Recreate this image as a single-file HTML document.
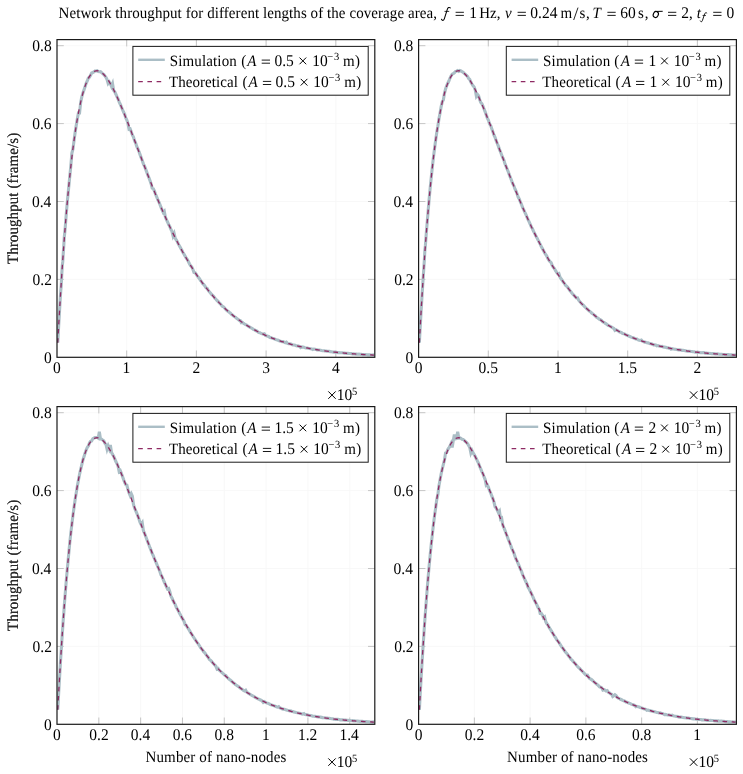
<!DOCTYPE html>
<html><head><meta charset="utf-8"><style>
html,body{margin:0;padding:0;background:#fff;width:743px;height:774px;overflow:hidden}
svg{display:block;will-change:transform}
text{font-family:"Liberation Serif",serif;text-rendering:geometricPrecision}
</style></head><body>
<svg width="743" height="774" viewBox="0 0 743 774" font-family="Liberation Serif, serif" fill="#000">
<rect width="743" height="774" fill="#fff"/>
<text transform="matrix(1,0,0,1.05,58.57,17.80)" font-size="15.0" textLength="378.4" lengthAdjust="spacing">Network throughput for different lengths of the coverage area,</text>
<path d="M441.5,19.3C442.2,20.9 443.7,20.8 444.3,18.9L447.3,9.4C447.9,7.5 449.3,6.9 450.3,7.9" stroke="#000" stroke-width="1.05" fill="none" stroke-linecap="round"/>
<path d="M444.5,11.4H449.2" stroke="#000" stroke-width="0.8"/>
<path d="M455.60,12.30h8.3M455.60,15.40h8.3" stroke="#000" stroke-width="0.9"/>
<text transform="matrix(1,0,0,1.05,469.24,17.80)" font-size="15.5">1</text>
<text transform="matrix(1,0,0,1.05,479.17,17.80)" font-size="15.0">Hz</text>
<text transform="matrix(1,0,0,1.05,496.73,17.80)" font-size="15.0">,</text>
<text transform="matrix(1,0,0,1.05,504.99,17.80)" font-size="15.0" font-style="italic">v</text>
<path d="M517.60,12.30h8.3M517.60,15.40h8.3" stroke="#000" stroke-width="0.9"/>
<text transform="matrix(1,0,0,1.05,530.31,17.80)" font-size="15.5">0.24</text>
<text transform="matrix(1,0,0,1.05,560.49,17.80)" font-size="15.0">m</text>
<path d="M573.7,20.00L578.0,7.60" stroke="#000" stroke-width="0.85"/>
<text transform="matrix(1,0,0,1.05,579.58,17.80)" font-size="15.0">s</text>
<text transform="matrix(1,0,0,1.05,586.03,17.80)" font-size="15.0">,</text>
<text transform="matrix(1,0,0,1.05,592.52,17.80)" font-size="15.0" font-style="italic">T</text>
<path d="M607.40,12.30h8.3M607.40,15.40h8.3" stroke="#000" stroke-width="0.9"/>
<text transform="matrix(1,0,0,1.05,620.23,17.80)" font-size="15.5">60</text>
<text transform="matrix(1,0,0,1.05,637.98,17.80)" font-size="15.0">s</text>
<text transform="matrix(1,0,0,1.05,644.73,17.80)" font-size="15.0">,</text>
<g fill="none" stroke="#000"><ellipse cx="655.8" cy="14.5" rx="2.5" ry="3.05" transform="rotate(25 655.8 14.5)" stroke-width="1.1"/><path d="M655.0,11.45L662.7,11.3" stroke-width="1.0"/></g>
<path d="M668.00,12.30h8.3M668.00,15.40h8.3" stroke="#000" stroke-width="0.9"/>
<text transform="matrix(1,0,0,1.05,681.22,17.80)" font-size="15.5">2</text>
<text transform="matrix(1,0,0,1.05,689.03,17.80)" font-size="15.0">,</text>
<text transform="matrix(1,0,0,1.05,696.64,17.80)" font-size="15.0" font-style="italic">t</text>
<g transform="translate(700.3,12.3) scale(0.74,0.7)" fill="none" stroke="#000"><path d="M0,12.4C0.7,14 2.2,13.9 2.8,12L5.8,2.5C6.4,0.6 7.8,0 8.8,1" stroke-width="1.25" stroke-linecap="round"/><path d="M3,4.5H7.7" stroke-width="1.0"/></g>
<path d="M713.20,12.30h8.3M713.20,15.40h8.3" stroke="#000" stroke-width="0.9"/>
<text transform="matrix(1,0,0,1.05,726.51,17.80)" font-size="15.5">0</text>
<path d="M126.70,39.60V357.30M196.40,39.60V357.30M266.10,39.60V357.30M335.80,39.60V357.30M57.00,279.40H374.80M57.00,201.50H374.80M57.00,123.60H374.80M57.00,45.70H374.80" stroke="#f6f6f6" stroke-width="0.8" fill="none"/>
<path d="M126.70,357.30v-6.8M126.70,39.60v6.8M196.40,357.30v-6.8M196.40,39.60v6.8M266.10,357.30v-6.8M266.10,39.60v6.8M335.80,357.30v-6.8M335.80,39.60v6.8M57.00,279.40h6.8M374.80,279.40h-6.8M57.00,201.50h6.8M374.80,201.50h-6.8M57.00,123.60h6.8M374.80,123.60h-6.8M57.00,45.70h6.8M374.80,45.70h-6.8" stroke="#b8b8b8" stroke-width="0.8" fill="none"/>
<clipPath id="c0"><rect x="57.00" y="39.60" width="317.80" height="317.70"/></clipPath>
<g clip-path="url(#c0)">
<path d="M57.76,342.63 L58.26,333.53 L58.76,324.28 L59.26,315.64 L59.76,306.88 L60.26,298.50 L60.76,290.81 L61.26,285.05 L61.76,274.75 L62.26,266.10 L62.76,261.68 L63.26,253.06 L63.76,246.03 L64.26,237.28 L64.76,232.53 L65.26,227.12 L66.36,212.82 L67.46,200.06 L68.56,188.93 L69.66,177.67 L70.76,166.55 L71.86,153.27 L72.96,148.86 L74.06,140.33 L75.16,132.30 L76.26,125.27 L77.36,118.76 L78.46,112.79 L79.56,112.87 L80.66,102.56 L81.76,97.10 L82.86,93.17 L83.96,89.96 L85.06,86.64 L86.16,83.32 L87.26,80.95 L88.36,78.08 L89.46,77.23 L90.56,75.16 L91.66,72.98 L92.76,72.48 L93.86,71.94 L94.96,71.04 L96.06,70.95 L97.16,70.75 L98.26,71.45 L99.36,71.69 L100.46,71.65 L101.56,72.60 L102.66,73.62 L103.76,74.45 L104.86,75.93 L105.96,77.35 L107.06,79.46 L108.16,83.36 L109.26,81.94 L110.36,83.66 L111.46,86.39 L112.56,83.64 L113.66,90.38 L114.76,91.91 L115.86,94.22 L116.96,96.68 L118.06,98.96 L119.16,101.90 L120.26,104.23 L121.36,106.91 L122.46,109.49 L123.56,112.01 L124.66,114.33 L125.76,117.90 L126.86,120.12 L127.96,123.60 L129.06,129.25 L130.16,128.94 L131.26,131.66 L132.36,135.00 L133.46,137.10 L134.56,140.60 L135.66,143.07 L136.76,146.37 L137.86,148.79 L138.96,151.52 L140.06,154.63 L141.16,157.62 L142.26,160.53 L143.36,163.85 L144.46,166.00 L145.56,168.91 L146.66,171.87 L147.76,174.86 L148.86,177.59 L149.96,180.50 L151.06,183.66 L152.16,188.13 L153.26,188.59 L154.36,190.93 L155.46,194.03 L156.56,196.54 L157.66,199.38 L158.76,201.67 L159.86,204.22 L160.96,207.18 L162.06,209.85 L163.16,212.33 L164.26,211.18 L165.36,217.08 L166.46,219.68 L167.56,221.98 L168.66,224.54 L169.76,226.45 L170.86,229.36 L171.96,231.28 L173.06,235.94 L174.16,233.50 L175.26,238.26 L176.36,240.07 L177.46,242.01 L178.56,244.40 L179.66,246.35 L180.76,248.28 L181.86,250.27 L182.96,252.49 L184.06,254.23 L185.16,256.25 L186.26,258.19 L187.36,259.60 L188.46,261.80 L189.56,263.94 L190.66,265.84 L191.76,266.93 L192.86,269.22 L193.96,272.52 L195.06,272.76 L196.16,274.12 L197.26,275.94 L198.36,277.23 L199.46,278.70 L200.56,280.58 L201.66,281.85 L202.76,283.66 L203.86,284.65 L204.96,286.07 L206.06,287.77 L207.16,288.37 L208.26,290.50 L209.36,291.81 L210.46,293.02 L211.56,294.36 L212.66,295.38 L213.76,296.54 L214.86,298.18 L215.96,299.24 L217.06,300.53 L218.16,301.42 L219.26,302.81 L220.36,303.76 L221.46,305.27 L222.56,306.38 L223.66,306.90 L224.76,308.30 L225.86,309.44 L226.96,310.64 L228.06,311.32 L229.16,312.27 L230.26,312.99 L231.36,314.24 L232.46,315.06 L233.56,315.98 L234.66,316.71 L235.76,317.39 L236.86,318.56 L237.96,319.24 L239.06,320.17 L240.16,320.36 L241.26,322.65 L242.36,322.31 L243.46,323.31 L244.56,324.01 L245.66,324.72 L246.76,325.18 L247.86,325.98 L248.96,326.61 L250.06,327.33 L251.16,327.89 L252.26,328.51 L253.36,329.30 L254.46,329.78 L255.56,330.54 L256.66,330.97 L257.76,331.69 L258.86,332.59 L259.96,332.73 L261.06,333.45 L262.16,333.84 L263.26,334.19 L264.36,333.80 L265.46,335.40 L266.56,335.83 L267.66,336.16 L268.76,336.50 L269.86,337.52 L270.96,337.60 L272.06,338.06 L273.16,338.59 L274.26,338.83 L275.36,339.34 L276.46,339.77 L277.56,340.05 L278.66,340.46 L279.76,340.95 L280.86,341.30 L281.96,341.62 L283.06,341.56 L284.16,342.12 L285.26,342.68 L286.36,342.14 L287.46,343.39 L288.56,343.69 L289.66,343.79 L290.76,343.91 L291.86,344.49 L292.96,344.94 L294.06,344.98 L295.16,345.17 L296.26,345.75 L297.36,345.91 L298.46,345.97 L299.56,346.48 L300.66,347.61 L301.76,346.92 L302.86,347.11 L303.96,347.34 L305.06,347.65 L306.16,347.92 L307.26,348.08 L308.36,348.31 L309.46,348.51 L310.56,348.71 L311.66,348.89 L312.76,349.51 L313.86,349.09 L314.96,349.30 L316.06,349.56 L317.16,349.92 L318.26,349.94 L319.36,349.98 L320.46,350.19 L321.56,350.51 L322.66,350.70 L323.76,350.73 L324.86,350.89 L325.96,350.93 L327.06,351.18 L328.16,351.28 L329.26,351.38 L330.36,351.61 L331.46,351.77 L332.56,351.97 L333.66,352.14 L334.76,352.13 L335.86,352.22 L336.96,352.55 L338.06,352.58 L339.16,352.67 L340.26,352.69 L341.36,352.79 L342.46,352.81 L343.56,352.98 L344.66,353.09 L345.76,353.23 L346.86,353.34 L347.96,353.28 L349.06,353.55 L350.16,353.50 L351.26,353.63 L352.36,353.99 L353.46,353.84 L354.56,354.08 L355.66,354.14 L356.76,354.04 L357.86,354.22 L358.96,354.12 L360.06,354.23 L361.16,354.38 L362.26,354.71 L363.36,354.55 L364.46,354.59 L365.56,354.61 L366.66,354.68 L367.76,354.89 L368.86,354.90 L369.96,354.81 L371.06,355.02 L372.16,354.99 L373.26,354.88 L374.36,355.16" stroke="#abbec6" stroke-width="3.1" fill="none" stroke-linejoin="miter" stroke-miterlimit="4"/>
<path d="M57.76,342.76 L58.01,338.09 L58.26,333.49 L58.51,328.94 L58.76,324.45 L59.01,320.02 L59.26,315.65 L59.51,311.33 L59.76,307.06 L60.01,302.85 L60.26,298.70 L60.51,294.60 L60.76,290.55 L61.01,286.56 L61.26,282.62 L61.51,278.73 L61.76,274.89 L62.01,271.10 L62.26,267.37 L62.51,263.68 L62.76,260.04 L63.01,256.46 L63.26,252.92 L63.51,249.42 L63.76,245.98 L64.01,242.58 L64.26,239.23 L64.51,235.93 L64.76,232.67 L65.01,229.46 L66.01,217.06 L67.01,205.34 L68.01,194.30 L69.01,183.89 L70.01,174.09 L71.01,164.89 L72.01,156.25 L73.01,148.16 L74.01,140.59 L75.01,133.53 L76.01,126.94 L77.01,120.82 L78.01,115.14 L79.01,109.89 L80.01,105.04 L81.01,100.59 L82.01,96.51 L83.01,92.79 L84.01,89.41 L85.01,86.36 L86.01,83.63 L87.01,81.19 L88.01,79.05 L89.01,77.18 L90.01,75.57 L91.01,74.21 L92.01,73.09 L93.01,72.20 L94.01,71.53 L95.01,71.07 L96.01,70.80 L97.01,70.72 L98.01,70.82 L99.01,71.09 L100.01,71.53 L101.01,72.11 L102.01,72.84 L103.01,73.71 L104.01,74.72 L105.01,75.84 L106.01,77.08 L107.01,78.44 L108.01,79.89 L109.01,81.45 L110.01,83.10 L111.01,84.83 L112.01,86.65 L113.01,88.54 L114.01,90.51 L115.01,92.54 L116.01,94.64 L117.01,96.79 L118.01,99.00 L119.01,101.26 L120.01,103.56 L121.01,105.91 L122.01,108.29 L123.01,110.71 L124.01,113.17 L125.01,115.65 L126.01,118.16 L127.01,120.70 L128.01,123.25 L129.01,125.82 L130.01,128.41 L131.01,131.01 L132.01,133.63 L133.01,136.25 L134.01,138.88 L135.01,141.51 L136.01,144.15 L137.01,146.79 L138.01,149.43 L139.01,152.07 L140.01,154.70 L141.01,157.33 L142.01,159.95 L143.01,162.57 L144.01,165.18 L145.01,167.77 L146.01,170.36 L147.01,172.93 L148.01,175.50 L149.01,178.04 L150.01,180.57 L151.01,183.09 L152.01,185.59 L153.01,188.07 L154.01,190.54 L155.01,192.99 L156.01,195.42 L157.01,197.82 L158.01,200.21 L159.01,202.58 L160.01,204.93 L161.01,207.25 L162.01,209.55 L163.01,211.84 L164.01,214.09 L165.01,216.33 L166.01,218.54 L167.01,220.73 L168.01,222.90 L169.01,225.04 L170.01,227.16 L171.01,229.25 L172.01,231.33 L173.01,233.37 L174.01,235.39 L175.01,237.39 L176.01,239.37 L177.01,241.32 L178.01,243.24 L179.01,245.14 L180.01,247.02 L181.01,248.87 L182.01,250.70 L183.01,252.50 L184.01,254.28 L185.01,256.04 L186.01,257.77 L187.01,259.48 L188.01,261.17 L189.01,262.83 L190.01,264.47 L191.01,266.08 L192.01,267.67 L193.01,269.24 L194.01,270.79 L195.01,272.31 L196.01,273.81 L197.01,275.29 L198.01,276.75 L199.01,278.18 L200.01,279.59 L201.01,280.99 L202.01,282.36 L203.01,283.71 L204.01,285.03 L205.01,286.34 L206.01,287.63 L207.01,288.89 L208.01,290.14 L209.01,291.37 L210.01,292.58 L211.01,293.76 L212.01,294.93 L213.01,296.08 L214.01,297.21 L215.01,298.33 L216.01,299.42 L217.01,300.50 L218.01,301.55 L219.01,302.59 L220.01,303.62 L221.01,304.62 L222.01,305.61 L223.01,306.59 L224.01,307.54 L225.01,308.48 L226.01,309.41 L227.01,310.31 L228.01,311.21 L229.01,312.08 L230.01,312.94 L231.01,313.79 L232.01,314.62 L233.01,315.44 L234.01,316.24 L235.01,317.03 L236.01,317.81 L237.01,318.57 L238.01,319.32 L239.01,320.05 L240.01,320.77 L241.01,321.48 L242.01,322.18 L243.01,322.86 L244.01,323.53 L245.01,324.19 L246.01,324.84 L247.01,325.47 L248.01,326.10 L249.01,326.71 L250.01,327.31 L251.01,327.90 L252.01,328.48 L253.01,329.05 L254.01,329.61 L255.01,330.15 L256.01,330.69 L257.01,331.22 L258.01,331.74 L259.01,332.24 L260.01,332.74 L261.01,333.23 L262.01,333.71 L263.01,334.18 L264.01,334.65 L265.01,335.10 L266.01,335.54 L267.01,335.98 L268.01,336.41 L269.01,336.83 L270.01,337.24 L271.01,337.64 L272.01,338.04 L273.01,338.43 L274.01,338.81 L275.01,339.19 L276.01,339.55 L277.01,339.91 L278.01,340.26 L279.01,340.61 L280.01,340.95 L281.01,341.28 L282.01,341.61 L283.01,341.93 L284.01,342.24 L285.01,342.55 L286.01,342.85 L287.01,343.15 L288.01,343.44 L289.01,343.72 L290.01,344.00 L291.01,344.27 L292.01,344.54 L293.01,344.80 L294.01,345.06 L295.01,345.31 L296.01,345.56 L297.01,345.80 L298.01,346.04 L299.01,346.27 L300.01,346.50 L301.01,346.73 L302.01,346.94 L303.01,347.16 L304.01,347.37 L305.01,347.58 L306.01,347.78 L307.01,347.98 L308.01,348.17 L309.01,348.36 L310.01,348.55 L311.01,348.73 L312.01,348.91 L313.01,349.08 L314.01,349.26 L315.01,349.43 L316.01,349.59 L317.01,349.75 L318.01,349.91 L319.01,350.07 L320.01,350.22 L321.01,350.37 L322.01,350.51 L323.01,350.65 L324.01,350.79 L325.01,350.93 L326.01,351.07 L327.01,351.20 L328.01,351.33 L329.01,351.45 L330.01,351.58 L331.01,351.70 L332.01,351.82 L333.01,351.93 L334.01,352.05 L335.01,352.16 L336.01,352.27 L337.01,352.37 L338.01,352.48 L339.01,352.58 L340.01,352.68 L341.01,352.78 L342.01,352.88 L343.01,352.97 L344.01,353.06 L345.01,353.15 L346.01,353.24 L347.01,353.33 L348.01,353.41 L349.01,353.50 L350.01,353.58 L351.01,353.66 L352.01,353.73 L353.01,353.81 L354.01,353.89 L355.01,353.96 L356.01,354.03 L357.01,354.10 L358.01,354.17 L359.01,354.24 L360.01,354.30 L361.01,354.37 L362.01,354.43 L363.01,354.49 L364.01,354.55 L365.01,354.61 L366.01,354.67 L367.01,354.73 L368.01,354.78 L369.01,354.84 L370.01,354.89 L371.01,354.94 L372.01,354.99 L373.01,355.04 L374.01,355.09" stroke="#8e2a63" stroke-width="1.3" fill="none" stroke-dasharray="4.6 4.6"/>
</g>
<rect x="57.00" y="39.60" width="317.80" height="317.70" fill="none" stroke="#1a1a1a" stroke-width="1.2"/>
<text transform="matrix(1,0,0,1.05,43.94,362.80)" font-size="15.5">0</text>
<text transform="matrix(1,0,0,1.05,32.58,284.90)" font-size="15.5">0.2</text>
<text transform="matrix(1,0,0,1.05,31.97,207.00)" font-size="15.5">0.4</text>
<text transform="matrix(1,0,0,1.05,32.19,129.10)" font-size="15.5">0.6</text>
<text transform="matrix(1,0,0,1.05,32.32,51.20)" font-size="15.5">0.8</text>
<text transform="matrix(1,0,0,1.05,53.12,373.10)" font-size="15.5">0</text>
<text transform="matrix(1,0,0,1.05,122.61,373.10)" font-size="15.5">1</text>
<text transform="matrix(1,0,0,1.05,192.61,373.10)" font-size="15.5">2</text>
<text transform="matrix(1,0,0,1.05,262.16,373.10)" font-size="15.5">3</text>
<text transform="matrix(1,0,0,1.05,331.89,373.10)" font-size="15.5">4</text>
<path d="M328.30,391.40L335.70,398.80M335.70,391.40L328.30,398.80" stroke="#000" stroke-width="1.0"/>
<text transform="matrix(1,0,0,1.05,336.84,399.80)" font-size="15.5">10</text>
<text transform="matrix(1,0,0,1.05,352.09,394.60)" font-size="10.5">5</text>
<text transform="translate(17.8,198.45) rotate(-90) scale(1,1.05)" text-anchor="middle" fill="#2a2a2a" style="stroke:none" font-size="15.0" textLength="131.3" lengthAdjust="spacing">Throughput (frame/s)</text>
<rect x="132.90" y="46.40" width="235.30" height="48.80" fill="#fff" stroke="#1a1a1a" stroke-width="1"/>
<line x1="138.20" y1="59.80" x2="164.80" y2="59.80" stroke="#abbec6" stroke-width="2.4"/>
<line x1="138.20" y1="81.60" x2="164.80" y2="81.60" stroke="#8e2a63" stroke-width="1.2" stroke-dasharray="4.6 4.6"/>
<text transform="matrix(1,0,0,1.05,169.70,65.60)" font-size="15.0" textLength="67.13" lengthAdjust="spacing">Simulation</text>
<text transform="matrix(1,0,0,1.05,241.34,65.60)" font-size="15.0">(</text>
<text transform="matrix(1,0,0,1.05,247.32,65.60)" font-size="15.0" font-style="italic">A</text>
<path d="M261.70,60.10h8.3M261.70,63.20h8.3" stroke="#000" stroke-width="0.9"/>
<text transform="matrix(1,0,0,1.05,274.40,65.60)" font-size="15.5">0.5</text>
<path d="M299.50,57.55L306.20,64.25M306.20,57.55L299.50,64.25" stroke="#000" stroke-width="1.0"/>
<text transform="matrix(1,0,0,1.05,312.14,65.60)" font-size="15.5">10</text>
<text transform="matrix(1,0,0,1.05,327.18,59.50)" font-size="10.5">−</text>
<text transform="matrix(1,0,0,1.05,333.90,59.50)" font-size="10.5">3</text>
<text transform="matrix(1,0,0,1.05,342.99,65.60)" font-size="15.0">m</text>
<text transform="matrix(1,0,0,1.05,355.02,65.60)" font-size="15.0">)</text>
<text transform="matrix(1,0,0,1.05,168.93,86.90)" font-size="15.0" textLength="69.07" lengthAdjust="spacing">Theoretical</text>
<text transform="matrix(1,0,0,1.05,242.54,86.90)" font-size="15.0">(</text>
<text transform="matrix(1,0,0,1.05,248.52,86.90)" font-size="15.0" font-style="italic">A</text>
<path d="M262.90,81.40h8.3M262.90,84.50h8.3" stroke="#000" stroke-width="0.9"/>
<text transform="matrix(1,0,0,1.05,275.60,86.90)" font-size="15.5">0.5</text>
<path d="M300.70,78.85L307.40,85.55M307.40,78.85L300.70,85.55" stroke="#000" stroke-width="1.0"/>
<text transform="matrix(1,0,0,1.05,313.34,86.90)" font-size="15.5">10</text>
<text transform="matrix(1,0,0,1.05,328.38,80.80)" font-size="10.5">−</text>
<text transform="matrix(1,0,0,1.05,335.10,80.80)" font-size="10.5">3</text>
<text transform="matrix(1,0,0,1.05,344.19,86.90)" font-size="15.0">m</text>
<text transform="matrix(1,0,0,1.05,356.22,86.90)" font-size="15.0">)</text>
<path d="M488.30,39.60V357.30M558.00,39.60V357.30M627.70,39.60V357.30M697.40,39.60V357.30M418.60,279.40H736.40M418.60,201.50H736.40M418.60,123.60H736.40M418.60,45.70H736.40" stroke="#f6f6f6" stroke-width="0.8" fill="none"/>
<path d="M488.30,357.30v-6.8M488.30,39.60v6.8M558.00,357.30v-6.8M558.00,39.60v6.8M627.70,357.30v-6.8M627.70,39.60v6.8M697.40,357.30v-6.8M697.40,39.60v6.8M418.60,279.40h6.8M736.40,279.40h-6.8M418.60,201.50h6.8M736.40,201.50h-6.8M418.60,123.60h6.8M736.40,123.60h-6.8M418.60,45.70h6.8M736.40,45.70h-6.8" stroke="#b8b8b8" stroke-width="0.8" fill="none"/>
<clipPath id="c1"><rect x="418.60" y="39.60" width="317.80" height="317.70"/></clipPath>
<g clip-path="url(#c1)">
<path d="M419.36,342.60 L419.86,333.52 L420.36,324.58 L420.86,315.65 L421.36,306.99 L421.86,298.50 L422.36,290.66 L422.86,282.77 L423.36,275.21 L423.86,267.50 L424.36,259.94 L424.86,250.49 L425.36,245.90 L425.86,239.10 L426.36,232.35 L426.86,226.42 L427.96,213.12 L429.06,200.06 L430.16,188.18 L431.26,177.33 L432.36,166.97 L433.46,157.20 L434.56,148.47 L435.66,140.12 L436.76,132.45 L437.86,126.22 L438.96,118.68 L440.06,112.99 L441.16,106.60 L442.26,101.81 L443.36,99.99 L444.46,93.24 L445.56,89.05 L446.66,85.80 L447.76,83.18 L448.86,81.06 L449.96,78.29 L451.06,75.93 L452.16,74.17 L453.26,73.64 L454.36,72.87 L455.46,71.59 L456.56,71.12 L457.66,70.50 L458.76,71.38 L459.86,70.49 L460.96,70.91 L462.06,71.77 L463.16,72.26 L464.26,73.32 L465.36,74.29 L466.46,75.37 L467.56,76.54 L468.66,78.50 L469.76,79.49 L470.86,82.08 L471.96,84.04 L473.06,85.74 L474.16,87.01 L475.26,90.05 L476.36,96.09 L477.46,94.32 L478.56,95.68 L479.66,99.54 L480.76,102.46 L481.86,103.67 L482.96,106.04 L484.06,108.95 L485.16,111.85 L486.26,115.07 L487.36,118.11 L488.46,120.38 L489.56,123.75 L490.66,125.48 L491.76,128.68 L492.86,131.78 L493.96,135.03 L495.06,137.22 L496.16,140.63 L497.26,143.52 L498.36,146.14 L499.46,149.37 L500.56,152.03 L501.66,154.94 L502.76,157.75 L503.86,160.14 L504.96,163.84 L506.06,166.41 L507.16,169.06 L508.26,171.79 L509.36,174.89 L510.46,177.65 L511.56,180.54 L512.66,183.51 L513.76,185.52 L514.86,188.69 L515.96,190.97 L517.06,193.75 L518.16,197.06 L519.26,198.97 L520.36,202.01 L521.46,204.31 L522.56,207.46 L523.66,209.61 L524.76,212.15 L525.86,214.43 L526.96,217.06 L528.06,219.66 L529.16,221.93 L530.26,224.37 L531.36,226.93 L532.46,228.82 L533.56,231.39 L534.66,233.35 L535.76,235.87 L536.86,237.63 L537.96,239.92 L539.06,242.07 L540.16,244.12 L541.26,246.51 L542.36,248.46 L543.46,250.58 L544.56,252.79 L545.66,254.50 L546.76,256.09 L547.86,258.46 L548.96,260.33 L550.06,261.63 L551.16,262.59 L552.26,265.54 L553.36,267.44 L554.46,268.60 L555.56,270.67 L556.66,272.37 L557.76,273.91 L558.86,273.51 L559.96,276.99 L561.06,278.81 L562.16,280.22 L563.26,282.00 L564.36,283.30 L565.46,285.22 L566.56,286.12 L567.66,287.29 L568.76,288.89 L569.86,290.58 L570.96,291.83 L572.06,293.16 L573.16,294.43 L574.26,295.69 L575.36,296.84 L576.46,297.96 L577.56,297.93 L578.66,300.17 L579.76,301.59 L580.86,302.73 L581.96,304.10 L583.06,304.84 L584.16,306.12 L585.26,307.25 L586.36,308.33 L587.46,309.26 L588.56,310.34 L589.66,311.34 L590.76,312.09 L591.86,313.21 L592.96,313.89 L594.06,314.86 L595.16,315.73 L596.26,317.00 L597.36,317.73 L598.46,318.50 L599.56,319.38 L600.66,319.92 L601.76,320.66 L602.86,321.99 L603.96,322.29 L605.06,323.17 L606.16,323.88 L607.26,324.73 L608.36,325.58 L609.46,325.85 L610.56,326.49 L611.66,327.15 L612.76,327.80 L613.86,328.46 L614.96,330.43 L616.06,329.84 L617.16,330.42 L618.26,330.99 L619.36,331.79 L620.46,332.16 L621.56,332.67 L622.66,333.48 L623.76,333.68 L624.86,334.17 L625.96,334.93 L627.06,335.27 L628.16,335.68 L629.26,336.28 L630.36,336.73 L631.46,337.32 L632.56,337.54 L633.66,337.93 L634.76,338.48 L635.86,338.93 L636.96,339.09 L638.06,339.90 L639.16,340.17 L640.26,340.39 L641.36,340.10 L642.46,341.25 L643.56,341.64 L644.66,342.13 L645.76,342.27 L646.86,342.67 L647.96,342.86 L649.06,343.37 L650.16,343.67 L651.26,343.74 L652.36,344.23 L653.46,344.88 L654.56,344.74 L655.66,345.03 L656.76,345.86 L657.86,345.53 L658.96,346.00 L660.06,346.21 L661.16,346.47 L662.26,346.38 L663.36,347.01 L664.46,347.13 L665.56,347.34 L666.66,347.62 L667.76,347.78 L668.86,348.10 L669.96,348.21 L671.06,349.16 L672.16,348.59 L673.26,348.91 L674.36,349.30 L675.46,349.30 L676.56,349.59 L677.66,349.79 L678.76,349.87 L679.86,349.78 L680.96,350.00 L682.06,350.37 L683.16,350.40 L684.26,350.45 L685.36,350.72 L686.46,351.07 L687.56,351.19 L688.66,351.22 L689.76,351.25 L690.86,351.49 L691.96,351.50 L693.06,351.72 L694.16,351.82 L695.26,352.19 L696.36,352.21 L697.46,352.28 L698.56,352.35 L699.66,352.42 L700.76,352.65 L701.86,352.73 L702.96,352.67 L704.06,352.61 L705.16,353.09 L706.26,353.08 L707.36,353.32 L708.46,353.22 L709.56,353.41 L710.66,353.53 L711.76,353.76 L712.86,353.54 L713.96,353.60 L715.06,353.88 L716.16,354.01 L717.26,353.89 L718.36,353.98 L719.46,354.18 L720.56,354.18 L721.66,354.34 L722.76,354.52 L723.86,354.43 L724.96,354.46 L726.06,354.62 L727.16,354.56 L728.26,354.60 L729.36,354.81 L730.46,354.90 L731.56,354.90 L732.66,355.09 L733.76,355.02 L734.86,355.09 L735.96,355.07" stroke="#abbec6" stroke-width="3.1" fill="none" stroke-linejoin="miter" stroke-miterlimit="4"/>
<path d="M419.36,342.76 L419.61,338.09 L419.86,333.49 L420.11,328.94 L420.36,324.45 L420.61,320.02 L420.86,315.65 L421.11,311.33 L421.36,307.06 L421.61,302.85 L421.86,298.70 L422.11,294.60 L422.36,290.55 L422.61,286.56 L422.86,282.62 L423.11,278.73 L423.36,274.89 L423.61,271.10 L423.86,267.37 L424.11,263.68 L424.36,260.04 L424.61,256.46 L424.86,252.92 L425.11,249.42 L425.36,245.98 L425.61,242.58 L425.86,239.23 L426.11,235.93 L426.36,232.67 L426.61,229.46 L427.61,217.06 L428.61,205.34 L429.61,194.30 L430.61,183.89 L431.61,174.09 L432.61,164.89 L433.61,156.25 L434.61,148.16 L435.61,140.59 L436.61,133.53 L437.61,126.94 L438.61,120.82 L439.61,115.14 L440.61,109.89 L441.61,105.04 L442.61,100.59 L443.61,96.51 L444.61,92.79 L445.61,89.41 L446.61,86.36 L447.61,83.63 L448.61,81.19 L449.61,79.05 L450.61,77.18 L451.61,75.57 L452.61,74.21 L453.61,73.09 L454.61,72.20 L455.61,71.53 L456.61,71.07 L457.61,70.80 L458.61,70.72 L459.61,70.82 L460.61,71.09 L461.61,71.53 L462.61,72.11 L463.61,72.84 L464.61,73.71 L465.61,74.72 L466.61,75.84 L467.61,77.08 L468.61,78.44 L469.61,79.89 L470.61,81.45 L471.61,83.10 L472.61,84.83 L473.61,86.65 L474.61,88.54 L475.61,90.51 L476.61,92.54 L477.61,94.64 L478.61,96.79 L479.61,99.00 L480.61,101.26 L481.61,103.56 L482.61,105.91 L483.61,108.29 L484.61,110.71 L485.61,113.17 L486.61,115.65 L487.61,118.16 L488.61,120.70 L489.61,123.25 L490.61,125.82 L491.61,128.41 L492.61,131.01 L493.61,133.63 L494.61,136.25 L495.61,138.88 L496.61,141.51 L497.61,144.15 L498.61,146.79 L499.61,149.43 L500.61,152.07 L501.61,154.70 L502.61,157.33 L503.61,159.95 L504.61,162.57 L505.61,165.18 L506.61,167.77 L507.61,170.36 L508.61,172.93 L509.61,175.50 L510.61,178.04 L511.61,180.57 L512.61,183.09 L513.61,185.59 L514.61,188.07 L515.61,190.54 L516.61,192.99 L517.61,195.42 L518.61,197.82 L519.61,200.21 L520.61,202.58 L521.61,204.93 L522.61,207.25 L523.61,209.55 L524.61,211.84 L525.61,214.09 L526.61,216.33 L527.61,218.54 L528.61,220.73 L529.61,222.90 L530.61,225.04 L531.61,227.16 L532.61,229.25 L533.61,231.33 L534.61,233.37 L535.61,235.39 L536.61,237.39 L537.61,239.37 L538.61,241.32 L539.61,243.24 L540.61,245.14 L541.61,247.02 L542.61,248.87 L543.61,250.70 L544.61,252.50 L545.61,254.28 L546.61,256.04 L547.61,257.77 L548.61,259.48 L549.61,261.17 L550.61,262.83 L551.61,264.47 L552.61,266.08 L553.61,267.67 L554.61,269.24 L555.61,270.79 L556.61,272.31 L557.61,273.81 L558.61,275.29 L559.61,276.75 L560.61,278.18 L561.61,279.59 L562.61,280.99 L563.61,282.36 L564.61,283.71 L565.61,285.03 L566.61,286.34 L567.61,287.63 L568.61,288.89 L569.61,290.14 L570.61,291.37 L571.61,292.58 L572.61,293.76 L573.61,294.93 L574.61,296.08 L575.61,297.21 L576.61,298.33 L577.61,299.42 L578.61,300.50 L579.61,301.55 L580.61,302.59 L581.61,303.62 L582.61,304.62 L583.61,305.61 L584.61,306.59 L585.61,307.54 L586.61,308.48 L587.61,309.41 L588.61,310.31 L589.61,311.21 L590.61,312.08 L591.61,312.94 L592.61,313.79 L593.61,314.62 L594.61,315.44 L595.61,316.24 L596.61,317.03 L597.61,317.81 L598.61,318.57 L599.61,319.32 L600.61,320.05 L601.61,320.77 L602.61,321.48 L603.61,322.18 L604.61,322.86 L605.61,323.53 L606.61,324.19 L607.61,324.84 L608.61,325.47 L609.61,326.10 L610.61,326.71 L611.61,327.31 L612.61,327.90 L613.61,328.48 L614.61,329.05 L615.61,329.61 L616.61,330.15 L617.61,330.69 L618.61,331.22 L619.61,331.74 L620.61,332.24 L621.61,332.74 L622.61,333.23 L623.61,333.71 L624.61,334.18 L625.61,334.65 L626.61,335.10 L627.61,335.54 L628.61,335.98 L629.61,336.41 L630.61,336.83 L631.61,337.24 L632.61,337.64 L633.61,338.04 L634.61,338.43 L635.61,338.81 L636.61,339.19 L637.61,339.55 L638.61,339.91 L639.61,340.26 L640.61,340.61 L641.61,340.95 L642.61,341.28 L643.61,341.61 L644.61,341.93 L645.61,342.24 L646.61,342.55 L647.61,342.85 L648.61,343.15 L649.61,343.44 L650.61,343.72 L651.61,344.00 L652.61,344.27 L653.61,344.54 L654.61,344.80 L655.61,345.06 L656.61,345.31 L657.61,345.56 L658.61,345.80 L659.61,346.04 L660.61,346.27 L661.61,346.50 L662.61,346.73 L663.61,346.94 L664.61,347.16 L665.61,347.37 L666.61,347.58 L667.61,347.78 L668.61,347.98 L669.61,348.17 L670.61,348.36 L671.61,348.55 L672.61,348.73 L673.61,348.91 L674.61,349.08 L675.61,349.26 L676.61,349.43 L677.61,349.59 L678.61,349.75 L679.61,349.91 L680.61,350.07 L681.61,350.22 L682.61,350.37 L683.61,350.51 L684.61,350.65 L685.61,350.79 L686.61,350.93 L687.61,351.07 L688.61,351.20 L689.61,351.33 L690.61,351.45 L691.61,351.58 L692.61,351.70 L693.61,351.82 L694.61,351.93 L695.61,352.05 L696.61,352.16 L697.61,352.27 L698.61,352.37 L699.61,352.48 L700.61,352.58 L701.61,352.68 L702.61,352.78 L703.61,352.88 L704.61,352.97 L705.61,353.06 L706.61,353.15 L707.61,353.24 L708.61,353.33 L709.61,353.41 L710.61,353.50 L711.61,353.58 L712.61,353.66 L713.61,353.73 L714.61,353.81 L715.61,353.89 L716.61,353.96 L717.61,354.03 L718.61,354.10 L719.61,354.17 L720.61,354.24 L721.61,354.30 L722.61,354.37 L723.61,354.43 L724.61,354.49 L725.61,354.55 L726.61,354.61 L727.61,354.67 L728.61,354.73 L729.61,354.78 L730.61,354.84 L731.61,354.89 L732.61,354.94 L733.61,354.99 L734.61,355.04 L735.61,355.09" stroke="#8e2a63" stroke-width="1.3" fill="none" stroke-dasharray="4.6 4.6"/>
</g>
<rect x="418.60" y="39.60" width="317.80" height="317.70" fill="none" stroke="#1a1a1a" stroke-width="1.2"/>
<text transform="matrix(1,0,0,1.05,405.54,362.80)" font-size="15.5">0</text>
<text transform="matrix(1,0,0,1.05,394.18,284.90)" font-size="15.5">0.2</text>
<text transform="matrix(1,0,0,1.05,393.57,207.00)" font-size="15.5">0.4</text>
<text transform="matrix(1,0,0,1.05,393.79,129.10)" font-size="15.5">0.6</text>
<text transform="matrix(1,0,0,1.05,393.92,51.20)" font-size="15.5">0.8</text>
<text transform="matrix(1,0,0,1.05,414.73,373.10)" font-size="15.5">0</text>
<text transform="matrix(1,0,0,1.05,478.62,373.10)" font-size="15.5">0.5</text>
<text transform="matrix(1,0,0,1.05,553.91,373.10)" font-size="15.5">1</text>
<text transform="matrix(1,0,0,1.05,617.63,373.10)" font-size="15.5">1.5</text>
<text transform="matrix(1,0,0,1.05,693.61,373.10)" font-size="15.5">2</text>
<path d="M689.90,391.40L697.30,398.80M697.30,391.40L689.90,398.80" stroke="#000" stroke-width="1.0"/>
<text transform="matrix(1,0,0,1.05,698.44,399.80)" font-size="15.5">10</text>
<text transform="matrix(1,0,0,1.05,713.69,394.60)" font-size="10.5">5</text>
<text transform="translate(17.8,198.45) rotate(-90) scale(1,1.05)" text-anchor="middle" fill="#2a2a2a" style="stroke:none" font-size="15.0" textLength="131.3" lengthAdjust="spacing">Throughput (frame/s)</text>
<rect x="506.30" y="46.40" width="223.50" height="48.80" fill="#fff" stroke="#1a1a1a" stroke-width="1"/>
<line x1="511.60" y1="59.80" x2="538.20" y2="59.80" stroke="#abbec6" stroke-width="2.4"/>
<line x1="511.60" y1="81.60" x2="538.20" y2="81.60" stroke="#8e2a63" stroke-width="1.2" stroke-dasharray="4.6 4.6"/>
<text transform="matrix(1,0,0,1.05,543.10,65.60)" font-size="15.0" textLength="67.13" lengthAdjust="spacing">Simulation</text>
<text transform="matrix(1,0,0,1.05,614.34,65.60)" font-size="15.0">(</text>
<text transform="matrix(1,0,0,1.05,620.72,65.60)" font-size="15.0" font-style="italic">A</text>
<path d="M634.80,60.10h8.3M634.80,63.20h8.3" stroke="#000" stroke-width="0.9"/>
<text transform="matrix(1,0,0,1.05,648.40,65.60)" font-size="15.5">1</text>
<path d="M661.10,57.55L667.80,64.25M667.80,57.55L661.10,64.25" stroke="#000" stroke-width="1.0"/>
<text transform="matrix(1,0,0,1.05,673.74,65.60)" font-size="15.5">10</text>
<text transform="matrix(1,0,0,1.05,688.78,59.50)" font-size="10.5">−</text>
<text transform="matrix(1,0,0,1.05,695.50,59.50)" font-size="10.5">3</text>
<text transform="matrix(1,0,0,1.05,704.59,65.60)" font-size="15.0">m</text>
<text transform="matrix(1,0,0,1.05,716.62,65.60)" font-size="15.0">)</text>
<text transform="matrix(1,0,0,1.05,542.33,86.90)" font-size="15.0" textLength="69.07" lengthAdjust="spacing">Theoretical</text>
<text transform="matrix(1,0,0,1.05,615.54,86.90)" font-size="15.0">(</text>
<text transform="matrix(1,0,0,1.05,621.92,86.90)" font-size="15.0" font-style="italic">A</text>
<path d="M636.00,81.40h8.3M636.00,84.50h8.3" stroke="#000" stroke-width="0.9"/>
<text transform="matrix(1,0,0,1.05,649.60,86.90)" font-size="15.5">1</text>
<path d="M662.30,78.85L669.00,85.55M669.00,78.85L662.30,85.55" stroke="#000" stroke-width="1.0"/>
<text transform="matrix(1,0,0,1.05,674.94,86.90)" font-size="15.5">10</text>
<text transform="matrix(1,0,0,1.05,689.98,80.80)" font-size="10.5">−</text>
<text transform="matrix(1,0,0,1.05,696.70,80.80)" font-size="10.5">3</text>
<text transform="matrix(1,0,0,1.05,705.79,86.90)" font-size="15.0">m</text>
<text transform="matrix(1,0,0,1.05,717.82,86.90)" font-size="15.0">)</text>
<path d="M98.82,406.60V724.30M140.64,406.60V724.30M182.46,406.60V724.30M224.28,406.60V724.30M266.10,406.60V724.30M307.92,406.60V724.30M349.74,406.60V724.30M57.00,646.40H374.80M57.00,568.50H374.80M57.00,490.60H374.80M57.00,412.70H374.80" stroke="#f6f6f6" stroke-width="0.8" fill="none"/>
<path d="M98.82,724.30v-6.8M98.82,406.60v6.8M140.64,724.30v-6.8M140.64,406.60v6.8M182.46,724.30v-6.8M182.46,406.60v6.8M224.28,724.30v-6.8M224.28,406.60v6.8M266.10,724.30v-6.8M266.10,406.60v6.8M307.92,724.30v-6.8M307.92,406.60v6.8M349.74,724.30v-6.8M349.74,406.60v6.8M57.00,646.40h6.8M374.80,646.40h-6.8M57.00,568.50h6.8M374.80,568.50h-6.8M57.00,490.60h6.8M374.80,490.60h-6.8M57.00,412.70h6.8M374.80,412.70h-6.8" stroke="#b8b8b8" stroke-width="0.8" fill="none"/>
<clipPath id="c2"><rect x="57.00" y="406.60" width="317.80" height="317.70"/></clipPath>
<g clip-path="url(#c2)">
<path d="M57.76,709.75 L58.26,700.67 L58.76,691.49 L59.26,682.74 L59.76,674.05 L60.26,665.62 L60.76,657.50 L61.26,649.80 L61.76,642.04 L62.26,634.38 L62.76,627.18 L63.26,619.56 L63.76,613.35 L64.26,606.11 L64.76,599.28 L65.26,593.33 L66.36,579.70 L67.46,567.51 L68.56,555.71 L69.66,543.97 L70.76,533.65 L71.86,524.34 L72.96,515.36 L74.06,507.30 L75.16,499.50 L76.26,492.77 L77.36,486.07 L78.46,480.04 L79.56,474.30 L80.66,469.45 L81.76,464.87 L82.86,460.21 L83.96,456.78 L85.06,453.28 L86.16,450.09 L87.26,447.45 L88.36,445.92 L89.46,442.93 L90.56,441.33 L91.66,440.93 L92.76,438.87 L93.86,438.21 L94.96,437.59 L96.06,437.52 L97.16,437.53 L98.26,438.17 L99.36,431.71 L100.46,438.97 L101.56,439.18 L102.66,439.99 L103.76,440.69 L104.86,443.16 L105.96,444.48 L107.06,449.16 L108.16,446.03 L109.26,448.87 L110.36,445.04 L111.46,452.34 L112.56,454.37 L113.66,456.10 L114.76,458.84 L115.86,461.55 L116.96,463.62 L118.06,466.20 L119.16,471.61 L120.26,470.63 L121.36,473.42 L122.46,476.26 L123.56,479.55 L124.66,482.34 L125.76,484.59 L126.86,485.17 L127.96,489.64 L129.06,492.98 L130.16,495.62 L131.26,493.72 L132.36,496.18 L133.46,504.38 L134.56,507.99 L135.66,510.65 L136.76,513.18 L137.86,515.94 L138.96,518.98 L140.06,522.40 L141.16,524.64 L142.26,522.92 L143.36,530.50 L144.46,533.05 L145.56,535.97 L146.66,538.97 L147.76,541.88 L148.86,544.71 L149.96,547.67 L151.06,550.36 L152.16,553.39 L153.26,555.64 L154.36,558.52 L155.46,561.11 L156.56,563.62 L157.66,566.48 L158.76,568.66 L159.86,571.52 L160.96,574.79 L162.06,576.64 L163.16,579.45 L164.26,582.06 L165.36,584.29 L166.46,586.80 L167.56,588.97 L168.66,588.53 L169.76,591.56 L170.86,595.94 L171.96,597.94 L173.06,600.48 L174.16,602.69 L175.26,604.56 L176.36,607.50 L177.46,609.25 L178.56,611.33 L179.66,613.42 L180.76,615.40 L181.86,617.67 L182.96,619.39 L184.06,621.37 L185.16,624.69 L186.26,625.32 L187.36,627.27 L188.46,628.93 L189.56,630.67 L190.66,632.60 L191.76,634.26 L192.86,636.09 L193.96,637.75 L195.06,639.47 L196.16,641.03 L197.26,642.61 L198.36,644.04 L199.46,645.71 L200.56,647.69 L201.66,649.02 L202.76,650.30 L203.86,651.90 L204.96,653.02 L206.06,654.55 L207.16,656.12 L208.26,657.43 L209.36,659.49 L210.46,660.15 L211.56,661.35 L212.66,662.80 L213.76,664.05 L214.86,665.11 L215.96,666.43 L217.06,669.05 L218.16,668.53 L219.26,670.29 L220.36,671.13 L221.46,672.13 L222.56,673.17 L223.66,674.06 L224.76,675.18 L225.86,675.54 L226.96,677.29 L228.06,678.13 L229.16,679.29 L230.26,679.95 L231.36,681.08 L232.46,681.90 L233.56,682.95 L234.66,683.78 L235.76,684.81 L236.86,685.45 L237.96,686.25 L239.06,687.06 L240.16,687.98 L241.26,688.77 L242.36,689.56 L243.46,690.31 L244.56,690.93 L245.66,690.22 L246.76,692.27 L247.86,692.95 L248.96,693.57 L250.06,694.39 L251.16,695.01 L252.26,695.69 L253.36,696.21 L254.46,696.87 L255.56,697.54 L256.66,698.12 L257.76,698.81 L258.86,699.10 L259.96,699.82 L261.06,700.19 L262.16,700.93 L263.26,702.32 L264.36,701.62 L265.46,702.26 L266.56,702.90 L267.66,703.17 L268.76,703.73 L269.86,704.30 L270.96,704.73 L272.06,705.09 L273.16,705.53 L274.26,705.85 L275.36,706.28 L276.46,706.70 L277.56,707.09 L278.66,706.67 L279.76,707.84 L280.86,708.09 L281.96,708.78 L283.06,709.15 L284.16,709.19 L285.26,709.57 L286.36,709.92 L287.46,710.28 L288.56,710.60 L289.66,710.96 L290.76,710.81 L291.86,711.42 L292.96,711.52 L294.06,712.08 L295.16,712.35 L296.26,712.60 L297.36,712.80 L298.46,712.90 L299.56,713.34 L300.66,713.60 L301.76,713.88 L302.86,714.09 L303.96,713.58 L305.06,714.57 L306.16,714.66 L307.26,714.73 L308.36,715.20 L309.46,715.40 L310.56,715.47 L311.66,715.82 L312.76,716.18 L313.86,716.31 L314.96,716.36 L316.06,716.55 L317.16,716.78 L318.26,716.90 L319.36,717.03 L320.46,717.13 L321.56,717.38 L322.66,717.62 L323.76,717.81 L324.86,717.79 L325.96,717.97 L327.06,718.15 L328.16,718.32 L329.26,718.41 L330.36,718.58 L331.46,718.76 L332.56,718.79 L333.66,719.11 L334.76,719.19 L335.86,719.36 L336.96,719.34 L338.06,719.38 L339.16,719.51 L340.26,719.84 L341.36,719.83 L342.46,719.73 L343.56,720.07 L344.66,720.10 L345.76,720.09 L346.86,720.24 L347.96,720.35 L349.06,720.53 L350.16,720.57 L351.26,720.70 L352.36,720.62 L353.46,720.87 L354.56,720.88 L355.66,720.96 L356.76,721.08 L357.86,721.15 L358.96,721.28 L360.06,721.38 L361.16,721.37 L362.26,721.35 L363.36,721.54 L364.46,721.57 L365.56,721.66 L366.66,721.57 L367.76,721.71 L368.86,721.82 L369.96,721.95 L371.06,721.97 L372.16,722.09 L373.26,721.90 L374.36,722.10" stroke="#abbec6" stroke-width="3.1" fill="none" stroke-linejoin="miter" stroke-miterlimit="4"/>
<path d="M57.76,709.76 L58.01,705.09 L58.26,700.49 L58.51,695.94 L58.76,691.45 L59.01,687.02 L59.26,682.65 L59.51,678.33 L59.76,674.06 L60.01,669.85 L60.26,665.70 L60.51,661.60 L60.76,657.55 L61.01,653.56 L61.26,649.62 L61.51,645.73 L61.76,641.89 L62.01,638.10 L62.26,634.37 L62.51,630.68 L62.76,627.04 L63.01,623.46 L63.26,619.92 L63.51,616.42 L63.76,612.98 L64.01,609.58 L64.26,606.23 L64.51,602.93 L64.76,599.67 L65.01,596.46 L66.01,584.06 L67.01,572.34 L68.01,561.30 L69.01,550.89 L70.01,541.09 L71.01,531.89 L72.01,523.25 L73.01,515.16 L74.01,507.59 L75.01,500.53 L76.01,493.94 L77.01,487.82 L78.01,482.14 L79.01,476.89 L80.01,472.04 L81.01,467.59 L82.01,463.51 L83.01,459.79 L84.01,456.41 L85.01,453.36 L86.01,450.63 L87.01,448.19 L88.01,446.05 L89.01,444.18 L90.01,442.57 L91.01,441.21 L92.01,440.09 L93.01,439.20 L94.01,438.53 L95.01,438.07 L96.01,437.80 L97.01,437.72 L98.01,437.82 L99.01,438.09 L100.01,438.53 L101.01,439.11 L102.01,439.84 L103.01,440.71 L104.01,441.72 L105.01,442.84 L106.01,444.08 L107.01,445.44 L108.01,446.89 L109.01,448.45 L110.01,450.10 L111.01,451.83 L112.01,453.65 L113.01,455.54 L114.01,457.51 L115.01,459.54 L116.01,461.64 L117.01,463.79 L118.01,466.00 L119.01,468.26 L120.01,470.56 L121.01,472.91 L122.01,475.29 L123.01,477.71 L124.01,480.17 L125.01,482.65 L126.01,485.16 L127.01,487.70 L128.01,490.25 L129.01,492.82 L130.01,495.41 L131.01,498.01 L132.01,500.63 L133.01,503.25 L134.01,505.88 L135.01,508.51 L136.01,511.15 L137.01,513.79 L138.01,516.43 L139.01,519.07 L140.01,521.70 L141.01,524.33 L142.01,526.95 L143.01,529.57 L144.01,532.18 L145.01,534.77 L146.01,537.36 L147.01,539.93 L148.01,542.50 L149.01,545.04 L150.01,547.57 L151.01,550.09 L152.01,552.59 L153.01,555.07 L154.01,557.54 L155.01,559.99 L156.01,562.42 L157.01,564.82 L158.01,567.21 L159.01,569.58 L160.01,571.93 L161.01,574.25 L162.01,576.55 L163.01,578.84 L164.01,581.09 L165.01,583.33 L166.01,585.54 L167.01,587.73 L168.01,589.90 L169.01,592.04 L170.01,594.16 L171.01,596.25 L172.01,598.33 L173.01,600.37 L174.01,602.39 L175.01,604.39 L176.01,606.37 L177.01,608.32 L178.01,610.24 L179.01,612.14 L180.01,614.02 L181.01,615.87 L182.01,617.70 L183.01,619.50 L184.01,621.28 L185.01,623.04 L186.01,624.77 L187.01,626.48 L188.01,628.17 L189.01,629.83 L190.01,631.47 L191.01,633.08 L192.01,634.67 L193.01,636.24 L194.01,637.79 L195.01,639.31 L196.01,640.81 L197.01,642.29 L198.01,643.75 L199.01,645.18 L200.01,646.59 L201.01,647.99 L202.01,649.36 L203.01,650.71 L204.01,652.03 L205.01,653.34 L206.01,654.63 L207.01,655.89 L208.01,657.14 L209.01,658.37 L210.01,659.58 L211.01,660.76 L212.01,661.93 L213.01,663.08 L214.01,664.21 L215.01,665.33 L216.01,666.42 L217.01,667.50 L218.01,668.55 L219.01,669.59 L220.01,670.62 L221.01,671.62 L222.01,672.61 L223.01,673.59 L224.01,674.54 L225.01,675.48 L226.01,676.41 L227.01,677.31 L228.01,678.21 L229.01,679.08 L230.01,679.94 L231.01,680.79 L232.01,681.62 L233.01,682.44 L234.01,683.24 L235.01,684.03 L236.01,684.81 L237.01,685.57 L238.01,686.32 L239.01,687.05 L240.01,687.77 L241.01,688.48 L242.01,689.18 L243.01,689.86 L244.01,690.53 L245.01,691.19 L246.01,691.84 L247.01,692.47 L248.01,693.10 L249.01,693.71 L250.01,694.31 L251.01,694.90 L252.01,695.48 L253.01,696.05 L254.01,696.61 L255.01,697.15 L256.01,697.69 L257.01,698.22 L258.01,698.74 L259.01,699.24 L260.01,699.74 L261.01,700.23 L262.01,700.71 L263.01,701.18 L264.01,701.65 L265.01,702.10 L266.01,702.54 L267.01,702.98 L268.01,703.41 L269.01,703.83 L270.01,704.24 L271.01,704.64 L272.01,705.04 L273.01,705.43 L274.01,705.81 L275.01,706.19 L276.01,706.55 L277.01,706.91 L278.01,707.26 L279.01,707.61 L280.01,707.95 L281.01,708.28 L282.01,708.61 L283.01,708.93 L284.01,709.24 L285.01,709.55 L286.01,709.85 L287.01,710.15 L288.01,710.44 L289.01,710.72 L290.01,711.00 L291.01,711.27 L292.01,711.54 L293.01,711.80 L294.01,712.06 L295.01,712.31 L296.01,712.56 L297.01,712.80 L298.01,713.04 L299.01,713.27 L300.01,713.50 L301.01,713.73 L302.01,713.94 L303.01,714.16 L304.01,714.37 L305.01,714.58 L306.01,714.78 L307.01,714.98 L308.01,715.17 L309.01,715.36 L310.01,715.55 L311.01,715.73 L312.01,715.91 L313.01,716.08 L314.01,716.26 L315.01,716.43 L316.01,716.59 L317.01,716.75 L318.01,716.91 L319.01,717.07 L320.01,717.22 L321.01,717.37 L322.01,717.51 L323.01,717.65 L324.01,717.79 L325.01,717.93 L326.01,718.07 L327.01,718.20 L328.01,718.33 L329.01,718.45 L330.01,718.58 L331.01,718.70 L332.01,718.82 L333.01,718.93 L334.01,719.05 L335.01,719.16 L336.01,719.27 L337.01,719.37 L338.01,719.48 L339.01,719.58 L340.01,719.68 L341.01,719.78 L342.01,719.88 L343.01,719.97 L344.01,720.06 L345.01,720.15 L346.01,720.24 L347.01,720.33 L348.01,720.41 L349.01,720.50 L350.01,720.58 L351.01,720.66 L352.01,720.73 L353.01,720.81 L354.01,720.89 L355.01,720.96 L356.01,721.03 L357.01,721.10 L358.01,721.17 L359.01,721.24 L360.01,721.30 L361.01,721.37 L362.01,721.43 L363.01,721.49 L364.01,721.55 L365.01,721.61 L366.01,721.67 L367.01,721.73 L368.01,721.78 L369.01,721.84 L370.01,721.89 L371.01,721.94 L372.01,721.99 L373.01,722.04 L374.01,722.09" stroke="#8e2a63" stroke-width="1.3" fill="none" stroke-dasharray="4.6 4.6"/>
</g>
<rect x="57.00" y="406.60" width="317.80" height="317.70" fill="none" stroke="#1a1a1a" stroke-width="1.2"/>
<text transform="matrix(1,0,0,1.05,43.94,729.80)" font-size="15.5">0</text>
<text transform="matrix(1,0,0,1.05,32.58,651.90)" font-size="15.5">0.2</text>
<text transform="matrix(1,0,0,1.05,31.97,574.00)" font-size="15.5">0.4</text>
<text transform="matrix(1,0,0,1.05,32.19,496.10)" font-size="15.5">0.6</text>
<text transform="matrix(1,0,0,1.05,32.32,418.20)" font-size="15.5">0.8</text>
<text transform="matrix(1,0,0,1.05,53.12,740.10)" font-size="15.5">0</text>
<text transform="matrix(1,0,0,1.05,89.26,740.10)" font-size="15.5">0.2</text>
<text transform="matrix(1,0,0,1.05,130.78,740.10)" font-size="15.5">0.4</text>
<text transform="matrix(1,0,0,1.05,172.71,740.10)" font-size="15.5">0.6</text>
<text transform="matrix(1,0,0,1.05,214.59,740.10)" font-size="15.5">0.8</text>
<text transform="matrix(1,0,0,1.05,262.01,740.10)" font-size="15.5">1</text>
<text transform="matrix(1,0,0,1.05,297.98,740.10)" font-size="15.5">1.2</text>
<text transform="matrix(1,0,0,1.05,339.49,740.10)" font-size="15.5">1.4</text>
<path d="M328.30,758.40L335.70,765.80M335.70,758.40L328.30,765.80" stroke="#000" stroke-width="1.0"/>
<text transform="matrix(1,0,0,1.05,336.84,766.80)" font-size="15.5">10</text>
<text transform="matrix(1,0,0,1.05,352.09,761.60)" font-size="10.5">5</text>
<text transform="translate(17.8,565.45) rotate(-90) scale(1,1.05)" text-anchor="middle" fill="#2a2a2a" style="stroke:none" font-size="15.0" textLength="131.3" lengthAdjust="spacing">Throughput (frame/s)</text>
<text transform="matrix(1,0,0,1.05,215.90,761.60)" text-anchor="middle" font-size="15.0" textLength="140.8" lengthAdjust="spacing">Number of nano-nodes</text>
<rect x="132.90" y="413.40" width="235.30" height="48.80" fill="#fff" stroke="#1a1a1a" stroke-width="1"/>
<line x1="138.20" y1="426.80" x2="164.80" y2="426.80" stroke="#abbec6" stroke-width="2.4"/>
<line x1="138.20" y1="448.60" x2="164.80" y2="448.60" stroke="#8e2a63" stroke-width="1.2" stroke-dasharray="4.6 4.6"/>
<text transform="matrix(1,0,0,1.05,169.70,432.60)" font-size="15.0" textLength="67.13" lengthAdjust="spacing">Simulation</text>
<text transform="matrix(1,0,0,1.05,241.34,432.60)" font-size="15.0">(</text>
<text transform="matrix(1,0,0,1.05,247.32,432.60)" font-size="15.0" font-style="italic">A</text>
<path d="M261.70,427.10h8.3M261.70,430.20h8.3" stroke="#000" stroke-width="0.9"/>
<text transform="matrix(1,0,0,1.05,274.40,432.60)" font-size="15.5">1.5</text>
<path d="M299.50,424.55L306.20,431.25M306.20,424.55L299.50,431.25" stroke="#000" stroke-width="1.0"/>
<text transform="matrix(1,0,0,1.05,312.14,432.60)" font-size="15.5">10</text>
<text transform="matrix(1,0,0,1.05,327.18,426.50)" font-size="10.5">−</text>
<text transform="matrix(1,0,0,1.05,333.90,426.50)" font-size="10.5">3</text>
<text transform="matrix(1,0,0,1.05,342.99,432.60)" font-size="15.0">m</text>
<text transform="matrix(1,0,0,1.05,355.02,432.60)" font-size="15.0">)</text>
<text transform="matrix(1,0,0,1.05,168.93,453.90)" font-size="15.0" textLength="69.07" lengthAdjust="spacing">Theoretical</text>
<text transform="matrix(1,0,0,1.05,242.54,453.90)" font-size="15.0">(</text>
<text transform="matrix(1,0,0,1.05,248.52,453.90)" font-size="15.0" font-style="italic">A</text>
<path d="M262.90,448.40h8.3M262.90,451.50h8.3" stroke="#000" stroke-width="0.9"/>
<text transform="matrix(1,0,0,1.05,275.60,453.90)" font-size="15.5">1.5</text>
<path d="M300.70,445.85L307.40,452.55M307.40,445.85L300.70,452.55" stroke="#000" stroke-width="1.0"/>
<text transform="matrix(1,0,0,1.05,313.34,453.90)" font-size="15.5">10</text>
<text transform="matrix(1,0,0,1.05,328.38,447.80)" font-size="10.5">−</text>
<text transform="matrix(1,0,0,1.05,335.10,447.80)" font-size="10.5">3</text>
<text transform="matrix(1,0,0,1.05,344.19,453.90)" font-size="15.0">m</text>
<text transform="matrix(1,0,0,1.05,356.22,453.90)" font-size="15.0">)</text>
<path d="M474.36,406.60V724.30M530.12,406.60V724.30M585.88,406.60V724.30M641.64,406.60V724.30M697.40,406.60V724.30M418.60,646.40H736.40M418.60,568.50H736.40M418.60,490.60H736.40M418.60,412.70H736.40" stroke="#f6f6f6" stroke-width="0.8" fill="none"/>
<path d="M474.36,724.30v-6.8M474.36,406.60v6.8M530.12,724.30v-6.8M530.12,406.60v6.8M585.88,724.30v-6.8M585.88,406.60v6.8M641.64,724.30v-6.8M641.64,406.60v6.8M697.40,724.30v-6.8M697.40,406.60v6.8M418.60,646.40h6.8M736.40,646.40h-6.8M418.60,568.50h6.8M736.40,568.50h-6.8M418.60,490.60h6.8M736.40,490.60h-6.8M418.60,412.70h6.8M736.40,412.70h-6.8" stroke="#b8b8b8" stroke-width="0.8" fill="none"/>
<clipPath id="c3"><rect x="418.60" y="406.60" width="317.80" height="317.70"/></clipPath>
<g clip-path="url(#c3)">
<path d="M419.36,709.89 L419.86,700.60 L420.36,691.44 L420.86,682.75 L421.36,673.99 L421.86,665.93 L422.36,657.64 L422.86,649.70 L423.36,641.87 L423.86,634.72 L424.36,626.76 L424.86,619.82 L425.36,613.12 L425.86,606.38 L426.36,599.91 L426.86,593.26 L427.96,579.47 L429.06,566.95 L430.16,555.15 L431.26,544.23 L432.36,534.40 L433.46,524.24 L434.56,515.67 L435.66,507.83 L436.76,499.57 L437.86,494.68 L438.96,485.62 L440.06,479.70 L441.16,473.77 L442.26,469.01 L443.36,464.35 L444.46,460.22 L445.56,452.85 L446.66,452.50 L447.76,449.53 L448.86,447.91 L449.96,446.01 L451.06,443.51 L452.16,447.39 L453.26,440.86 L454.36,434.61 L455.46,438.78 L456.56,438.45 L457.66,431.75 L458.76,438.05 L459.86,437.88 L460.96,438.39 L462.06,439.38 L463.16,439.58 L464.26,440.33 L465.36,441.51 L466.46,442.43 L467.56,443.71 L468.66,445.52 L469.76,447.52 L470.86,452.97 L471.96,450.52 L473.06,452.91 L474.16,454.60 L475.26,456.61 L476.36,458.65 L477.46,461.21 L478.56,463.40 L479.66,466.41 L480.76,468.97 L481.86,471.63 L482.96,473.83 L484.06,476.91 L485.16,479.56 L486.26,485.46 L487.36,484.85 L488.46,487.23 L489.56,490.64 L490.66,492.93 L491.76,495.92 L492.86,498.60 L493.96,502.02 L495.06,506.69 L496.16,508.03 L497.26,510.16 L498.36,512.48 L499.46,511.07 L500.56,518.94 L501.66,518.15 L502.76,525.03 L503.86,527.62 L504.96,530.29 L506.06,533.52 L507.16,536.19 L508.26,539.28 L509.36,541.78 L510.46,544.85 L511.56,547.87 L512.66,550.28 L513.76,552.67 L514.86,555.95 L515.96,559.14 L517.06,560.97 L518.16,563.70 L519.26,566.18 L520.36,569.02 L521.46,571.08 L522.56,574.55 L523.66,576.88 L524.76,579.33 L525.86,581.71 L526.96,583.94 L528.06,587.32 L529.16,589.01 L530.26,591.33 L531.36,593.47 L532.46,595.98 L533.56,598.29 L534.66,600.82 L535.76,602.77 L536.86,604.88 L537.96,607.39 L539.06,608.95 L540.16,613.46 L541.26,613.39 L542.36,615.04 L543.46,617.82 L544.56,616.94 L545.66,621.41 L546.76,623.57 L547.86,624.90 L548.96,627.12 L550.06,628.80 L551.16,630.61 L552.26,632.39 L553.36,634.32 L554.46,636.04 L555.56,637.60 L556.66,639.71 L557.76,641.00 L558.86,642.23 L559.96,644.18 L561.06,645.88 L562.16,647.47 L563.26,648.62 L564.36,650.57 L565.46,651.91 L566.56,653.18 L567.66,654.63 L568.76,656.27 L569.86,657.43 L570.96,659.11 L572.06,660.01 L573.16,661.49 L574.26,662.65 L575.36,663.70 L576.46,665.14 L577.56,666.50 L578.66,667.68 L579.76,668.47 L580.86,669.88 L581.96,670.84 L583.06,672.04 L584.16,673.20 L585.26,674.39 L586.36,675.33 L587.46,675.14 L588.56,677.12 L589.66,678.47 L590.76,679.11 L591.86,679.83 L592.96,680.88 L594.06,681.94 L595.16,682.86 L596.26,683.84 L597.36,684.62 L598.46,685.65 L599.56,686.85 L600.66,687.19 L601.76,687.89 L602.86,690.07 L603.96,689.67 L605.06,690.17 L606.16,691.03 L607.26,690.65 L608.36,692.27 L609.46,692.83 L610.56,693.81 L611.66,694.28 L612.76,696.43 L613.86,695.75 L614.96,694.72 L616.06,695.54 L617.16,697.33 L618.26,698.08 L619.36,698.52 L620.46,699.25 L621.56,699.69 L622.66,700.39 L623.76,700.77 L624.86,701.17 L625.96,701.97 L627.06,702.23 L628.16,702.87 L629.26,703.16 L630.36,703.71 L631.46,704.19 L632.56,704.44 L633.66,705.07 L634.76,705.45 L635.86,706.68 L636.96,706.32 L638.06,706.65 L639.16,707.05 L640.26,707.54 L641.36,707.85 L642.46,708.27 L643.56,708.77 L644.66,708.96 L645.76,709.30 L646.86,710.23 L647.96,710.01 L649.06,710.51 L650.16,710.61 L651.26,710.88 L652.36,711.19 L653.46,711.49 L654.56,711.78 L655.66,712.10 L656.76,712.36 L657.86,712.53 L658.96,713.00 L660.06,712.90 L661.16,713.32 L662.26,713.49 L663.36,713.81 L664.46,714.65 L665.56,714.44 L666.66,714.75 L667.76,715.02 L668.86,714.92 L669.96,715.33 L671.06,715.45 L672.16,715.17 L673.26,715.85 L674.36,716.06 L675.46,716.17 L676.56,716.40 L677.66,716.47 L678.76,716.98 L679.86,717.17 L680.96,717.14 L682.06,717.33 L683.16,717.52 L684.26,717.64 L685.36,717.72 L686.46,717.84 L687.56,718.05 L688.66,718.07 L689.76,718.42 L690.86,718.55 L691.96,718.58 L693.06,718.90 L694.16,718.92 L695.26,718.93 L696.36,719.24 L697.46,719.29 L698.56,719.44 L699.66,719.44 L700.76,719.55 L701.86,719.84 L702.96,719.89 L704.06,719.90 L705.16,719.88 L706.26,720.25 L707.36,720.33 L708.46,720.38 L709.56,720.55 L710.66,720.43 L711.76,720.55 L712.86,720.51 L713.96,720.74 L715.06,720.88 L716.16,720.90 L717.26,721.07 L718.36,720.88 L719.46,721.23 L720.56,721.15 L721.66,721.17 L722.76,721.31 L723.86,721.39 L724.96,721.50 L726.06,721.65 L727.16,721.60 L728.26,721.86 L729.36,721.89 L730.46,721.83 L731.56,722.04 L732.66,721.83 L733.76,721.98 L734.86,722.05 L735.96,722.21" stroke="#abbec6" stroke-width="3.1" fill="none" stroke-linejoin="miter" stroke-miterlimit="4"/>
<path d="M419.36,709.76 L419.61,705.09 L419.86,700.49 L420.11,695.94 L420.36,691.45 L420.61,687.02 L420.86,682.65 L421.11,678.33 L421.36,674.06 L421.61,669.85 L421.86,665.70 L422.11,661.60 L422.36,657.55 L422.61,653.56 L422.86,649.62 L423.11,645.73 L423.36,641.89 L423.61,638.10 L423.86,634.37 L424.11,630.68 L424.36,627.04 L424.61,623.46 L424.86,619.92 L425.11,616.42 L425.36,612.98 L425.61,609.58 L425.86,606.23 L426.11,602.93 L426.36,599.67 L426.61,596.46 L427.61,584.06 L428.61,572.34 L429.61,561.30 L430.61,550.89 L431.61,541.09 L432.61,531.89 L433.61,523.25 L434.61,515.16 L435.61,507.59 L436.61,500.53 L437.61,493.94 L438.61,487.82 L439.61,482.14 L440.61,476.89 L441.61,472.04 L442.61,467.59 L443.61,463.51 L444.61,459.79 L445.61,456.41 L446.61,453.36 L447.61,450.63 L448.61,448.19 L449.61,446.05 L450.61,444.18 L451.61,442.57 L452.61,441.21 L453.61,440.09 L454.61,439.20 L455.61,438.53 L456.61,438.07 L457.61,437.80 L458.61,437.72 L459.61,437.82 L460.61,438.09 L461.61,438.53 L462.61,439.11 L463.61,439.84 L464.61,440.71 L465.61,441.72 L466.61,442.84 L467.61,444.08 L468.61,445.44 L469.61,446.89 L470.61,448.45 L471.61,450.10 L472.61,451.83 L473.61,453.65 L474.61,455.54 L475.61,457.51 L476.61,459.54 L477.61,461.64 L478.61,463.79 L479.61,466.00 L480.61,468.26 L481.61,470.56 L482.61,472.91 L483.61,475.29 L484.61,477.71 L485.61,480.17 L486.61,482.65 L487.61,485.16 L488.61,487.70 L489.61,490.25 L490.61,492.82 L491.61,495.41 L492.61,498.01 L493.61,500.63 L494.61,503.25 L495.61,505.88 L496.61,508.51 L497.61,511.15 L498.61,513.79 L499.61,516.43 L500.61,519.07 L501.61,521.70 L502.61,524.33 L503.61,526.95 L504.61,529.57 L505.61,532.18 L506.61,534.77 L507.61,537.36 L508.61,539.93 L509.61,542.50 L510.61,545.04 L511.61,547.57 L512.61,550.09 L513.61,552.59 L514.61,555.07 L515.61,557.54 L516.61,559.99 L517.61,562.42 L518.61,564.82 L519.61,567.21 L520.61,569.58 L521.61,571.93 L522.61,574.25 L523.61,576.55 L524.61,578.84 L525.61,581.09 L526.61,583.33 L527.61,585.54 L528.61,587.73 L529.61,589.90 L530.61,592.04 L531.61,594.16 L532.61,596.25 L533.61,598.33 L534.61,600.37 L535.61,602.39 L536.61,604.39 L537.61,606.37 L538.61,608.32 L539.61,610.24 L540.61,612.14 L541.61,614.02 L542.61,615.87 L543.61,617.70 L544.61,619.50 L545.61,621.28 L546.61,623.04 L547.61,624.77 L548.61,626.48 L549.61,628.17 L550.61,629.83 L551.61,631.47 L552.61,633.08 L553.61,634.67 L554.61,636.24 L555.61,637.79 L556.61,639.31 L557.61,640.81 L558.61,642.29 L559.61,643.75 L560.61,645.18 L561.61,646.59 L562.61,647.99 L563.61,649.36 L564.61,650.71 L565.61,652.03 L566.61,653.34 L567.61,654.63 L568.61,655.89 L569.61,657.14 L570.61,658.37 L571.61,659.58 L572.61,660.76 L573.61,661.93 L574.61,663.08 L575.61,664.21 L576.61,665.33 L577.61,666.42 L578.61,667.50 L579.61,668.55 L580.61,669.59 L581.61,670.62 L582.61,671.62 L583.61,672.61 L584.61,673.59 L585.61,674.54 L586.61,675.48 L587.61,676.41 L588.61,677.31 L589.61,678.21 L590.61,679.08 L591.61,679.94 L592.61,680.79 L593.61,681.62 L594.61,682.44 L595.61,683.24 L596.61,684.03 L597.61,684.81 L598.61,685.57 L599.61,686.32 L600.61,687.05 L601.61,687.77 L602.61,688.48 L603.61,689.18 L604.61,689.86 L605.61,690.53 L606.61,691.19 L607.61,691.84 L608.61,692.47 L609.61,693.10 L610.61,693.71 L611.61,694.31 L612.61,694.90 L613.61,695.48 L614.61,696.05 L615.61,696.61 L616.61,697.15 L617.61,697.69 L618.61,698.22 L619.61,698.74 L620.61,699.24 L621.61,699.74 L622.61,700.23 L623.61,700.71 L624.61,701.18 L625.61,701.65 L626.61,702.10 L627.61,702.54 L628.61,702.98 L629.61,703.41 L630.61,703.83 L631.61,704.24 L632.61,704.64 L633.61,705.04 L634.61,705.43 L635.61,705.81 L636.61,706.19 L637.61,706.55 L638.61,706.91 L639.61,707.26 L640.61,707.61 L641.61,707.95 L642.61,708.28 L643.61,708.61 L644.61,708.93 L645.61,709.24 L646.61,709.55 L647.61,709.85 L648.61,710.15 L649.61,710.44 L650.61,710.72 L651.61,711.00 L652.61,711.27 L653.61,711.54 L654.61,711.80 L655.61,712.06 L656.61,712.31 L657.61,712.56 L658.61,712.80 L659.61,713.04 L660.61,713.27 L661.61,713.50 L662.61,713.73 L663.61,713.94 L664.61,714.16 L665.61,714.37 L666.61,714.58 L667.61,714.78 L668.61,714.98 L669.61,715.17 L670.61,715.36 L671.61,715.55 L672.61,715.73 L673.61,715.91 L674.61,716.08 L675.61,716.26 L676.61,716.43 L677.61,716.59 L678.61,716.75 L679.61,716.91 L680.61,717.07 L681.61,717.22 L682.61,717.37 L683.61,717.51 L684.61,717.65 L685.61,717.79 L686.61,717.93 L687.61,718.07 L688.61,718.20 L689.61,718.33 L690.61,718.45 L691.61,718.58 L692.61,718.70 L693.61,718.82 L694.61,718.93 L695.61,719.05 L696.61,719.16 L697.61,719.27 L698.61,719.37 L699.61,719.48 L700.61,719.58 L701.61,719.68 L702.61,719.78 L703.61,719.88 L704.61,719.97 L705.61,720.06 L706.61,720.15 L707.61,720.24 L708.61,720.33 L709.61,720.41 L710.61,720.50 L711.61,720.58 L712.61,720.66 L713.61,720.73 L714.61,720.81 L715.61,720.89 L716.61,720.96 L717.61,721.03 L718.61,721.10 L719.61,721.17 L720.61,721.24 L721.61,721.30 L722.61,721.37 L723.61,721.43 L724.61,721.49 L725.61,721.55 L726.61,721.61 L727.61,721.67 L728.61,721.73 L729.61,721.78 L730.61,721.84 L731.61,721.89 L732.61,721.94 L733.61,721.99 L734.61,722.04 L735.61,722.09" stroke="#8e2a63" stroke-width="1.3" fill="none" stroke-dasharray="4.6 4.6"/>
</g>
<rect x="418.60" y="406.60" width="317.80" height="317.70" fill="none" stroke="#1a1a1a" stroke-width="1.2"/>
<text transform="matrix(1,0,0,1.05,405.54,729.80)" font-size="15.5">0</text>
<text transform="matrix(1,0,0,1.05,394.18,651.90)" font-size="15.5">0.2</text>
<text transform="matrix(1,0,0,1.05,393.57,574.00)" font-size="15.5">0.4</text>
<text transform="matrix(1,0,0,1.05,393.79,496.10)" font-size="15.5">0.6</text>
<text transform="matrix(1,0,0,1.05,393.92,418.20)" font-size="15.5">0.8</text>
<text transform="matrix(1,0,0,1.05,414.73,740.10)" font-size="15.5">0</text>
<text transform="matrix(1,0,0,1.05,464.80,740.10)" font-size="15.5">0.2</text>
<text transform="matrix(1,0,0,1.05,520.26,740.10)" font-size="15.5">0.4</text>
<text transform="matrix(1,0,0,1.05,576.13,740.10)" font-size="15.5">0.6</text>
<text transform="matrix(1,0,0,1.05,631.95,740.10)" font-size="15.5">0.8</text>
<text transform="matrix(1,0,0,1.05,693.31,740.10)" font-size="15.5">1</text>
<path d="M689.90,758.40L697.30,765.80M697.30,758.40L689.90,765.80" stroke="#000" stroke-width="1.0"/>
<text transform="matrix(1,0,0,1.05,698.44,766.80)" font-size="15.5">10</text>
<text transform="matrix(1,0,0,1.05,713.69,761.60)" font-size="10.5">5</text>
<text transform="translate(17.8,565.45) rotate(-90) scale(1,1.05)" text-anchor="middle" fill="#2a2a2a" style="stroke:none" font-size="15.0" textLength="131.3" lengthAdjust="spacing">Throughput (frame/s)</text>
<text transform="matrix(1,0,0,1.05,577.50,761.60)" text-anchor="middle" font-size="15.0" textLength="140.8" lengthAdjust="spacing">Number of nano-nodes</text>
<rect x="506.30" y="413.40" width="223.50" height="48.80" fill="#fff" stroke="#1a1a1a" stroke-width="1"/>
<line x1="511.60" y1="426.80" x2="538.20" y2="426.80" stroke="#abbec6" stroke-width="2.4"/>
<line x1="511.60" y1="448.60" x2="538.20" y2="448.60" stroke="#8e2a63" stroke-width="1.2" stroke-dasharray="4.6 4.6"/>
<text transform="matrix(1,0,0,1.05,543.10,432.60)" font-size="15.0" textLength="67.13" lengthAdjust="spacing">Simulation</text>
<text transform="matrix(1,0,0,1.05,614.34,432.60)" font-size="15.0">(</text>
<text transform="matrix(1,0,0,1.05,620.72,432.60)" font-size="15.0" font-style="italic">A</text>
<path d="M634.80,427.10h8.3M634.80,430.20h8.3" stroke="#000" stroke-width="0.9"/>
<text transform="matrix(1,0,0,1.05,648.40,432.60)" font-size="15.5">2</text>
<path d="M661.10,424.55L667.80,431.25M667.80,424.55L661.10,431.25" stroke="#000" stroke-width="1.0"/>
<text transform="matrix(1,0,0,1.05,673.74,432.60)" font-size="15.5">10</text>
<text transform="matrix(1,0,0,1.05,688.78,426.50)" font-size="10.5">−</text>
<text transform="matrix(1,0,0,1.05,695.50,426.50)" font-size="10.5">3</text>
<text transform="matrix(1,0,0,1.05,704.59,432.60)" font-size="15.0">m</text>
<text transform="matrix(1,0,0,1.05,716.62,432.60)" font-size="15.0">)</text>
<text transform="matrix(1,0,0,1.05,542.33,453.90)" font-size="15.0" textLength="69.07" lengthAdjust="spacing">Theoretical</text>
<text transform="matrix(1,0,0,1.05,615.54,453.90)" font-size="15.0">(</text>
<text transform="matrix(1,0,0,1.05,621.92,453.90)" font-size="15.0" font-style="italic">A</text>
<path d="M636.00,448.40h8.3M636.00,451.50h8.3" stroke="#000" stroke-width="0.9"/>
<text transform="matrix(1,0,0,1.05,649.60,453.90)" font-size="15.5">2</text>
<path d="M662.30,445.85L669.00,452.55M669.00,445.85L662.30,452.55" stroke="#000" stroke-width="1.0"/>
<text transform="matrix(1,0,0,1.05,674.94,453.90)" font-size="15.5">10</text>
<text transform="matrix(1,0,0,1.05,689.98,447.80)" font-size="10.5">−</text>
<text transform="matrix(1,0,0,1.05,696.70,447.80)" font-size="10.5">3</text>
<text transform="matrix(1,0,0,1.05,705.79,453.90)" font-size="15.0">m</text>
<text transform="matrix(1,0,0,1.05,717.82,453.90)" font-size="15.0">)</text>
</svg>
</body></html>
